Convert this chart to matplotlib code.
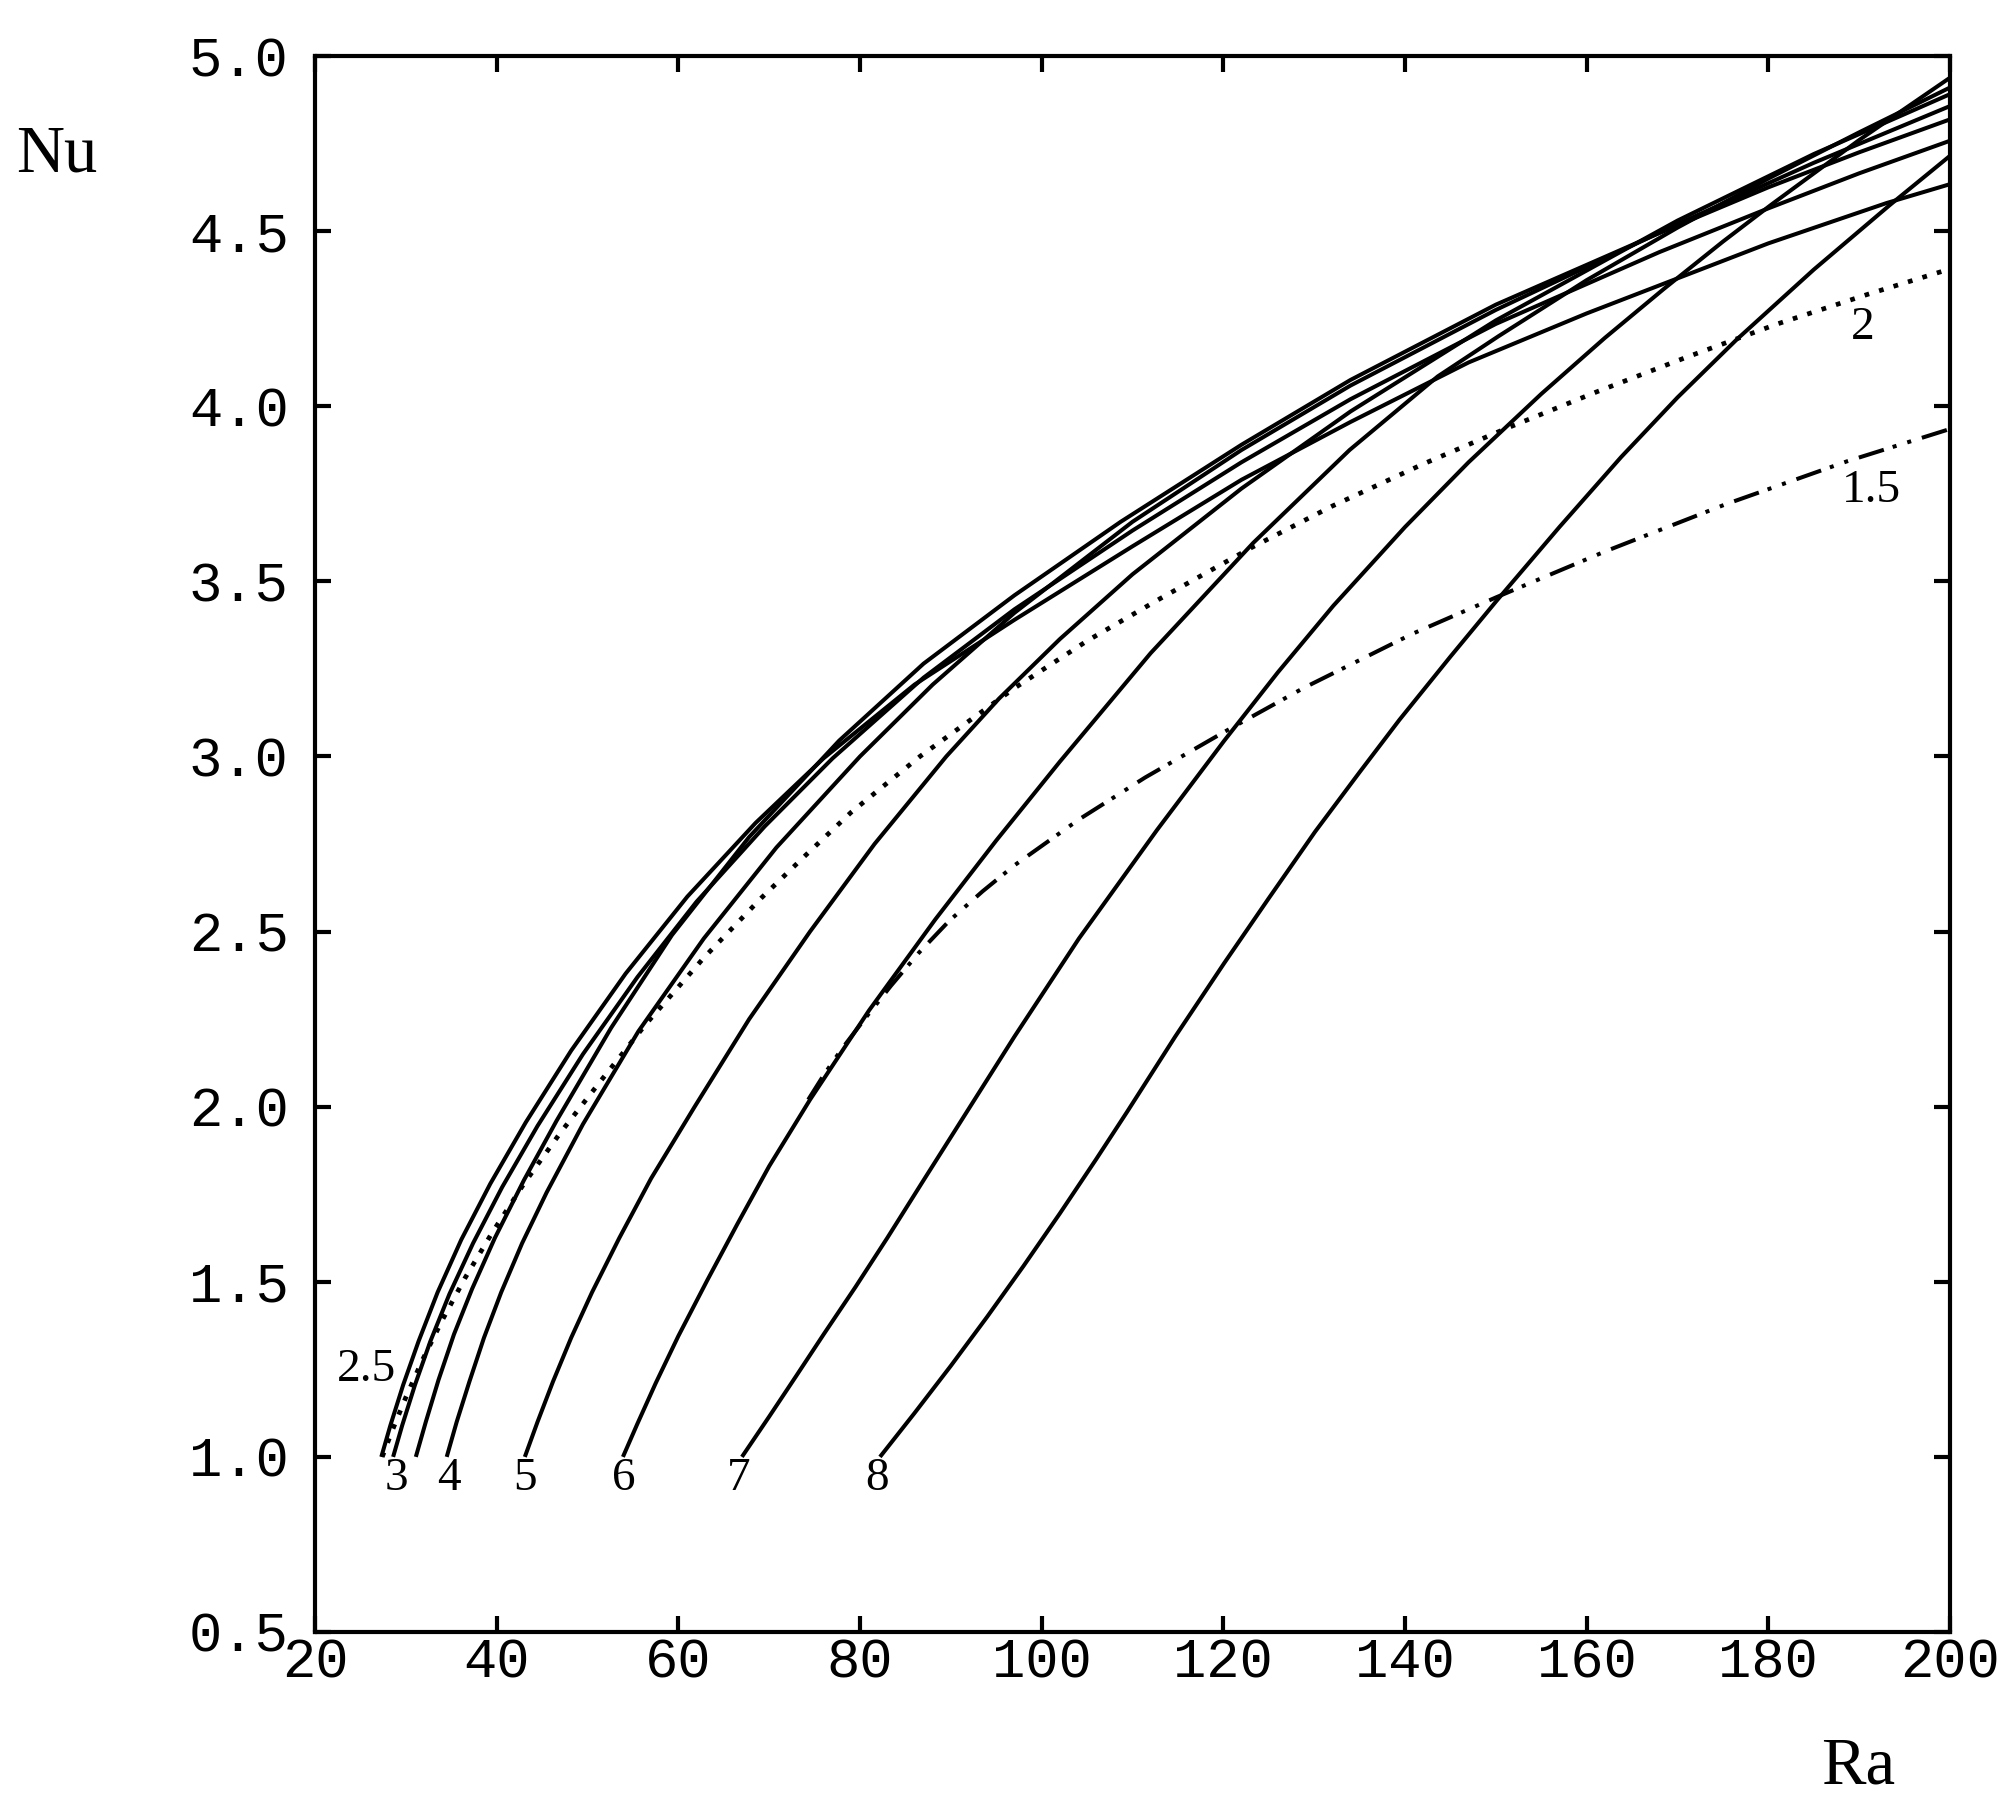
import matplotlib
matplotlib.use("Agg")
import matplotlib.pyplot as plt

# ---- curves: Nu vs Ra for each label ----
# solid curves
c25_ra = [27.3, 28.3, 29.7, 31.4, 33.5, 36.1, 39.3, 43.2, 48.2, 54.2, 61, 68.5, 76, 86, 97, 110, 122, 134, 147, 160, 170, 180, 193, 200]
c25_nu = [1.0, 1.09, 1.205, 1.33, 1.47, 1.62, 1.78, 1.955, 2.16, 2.38, 2.6, 2.81, 2.995, 3.205, 3.39, 3.60, 3.79, 3.955, 4.125, 4.265, 4.365, 4.465, 4.58, 4.634]

c3_ra = [28.6, 29.6, 31.0, 32.7, 34.8, 37.4, 40.6, 44.5, 49.5, 55.5, 62, 69.5, 77, 87, 97, 110, 122, 134, 150, 168, 180, 190, 200]
c3_nu = [1.0, 1.09, 1.205, 1.33, 1.465, 1.61, 1.77, 1.945, 2.15, 2.37, 2.585, 2.8, 2.995, 3.225, 3.42, 3.645, 3.84, 4.02, 4.235, 4.44, 4.565, 4.665, 4.758]

c35_ra = [31.1, 32.2, 33.6, 35.3, 37.3, 39.8, 43, 46.6, 52.6, 59.3, 67.8, 77.7, 87, 97, 108.7, 122, 134, 150, 167.6, 180, 190, 200]
c35_nu = [1.0, 1.1, 1.22, 1.35, 1.48, 1.625, 1.79, 1.96, 2.225, 2.49, 2.77, 3.045, 3.265, 3.46, 3.67, 3.89, 4.075, 4.29, 4.49, 4.625, 4.725, 4.819]

c4_ra = [34.5, 35.6, 37.0, 38.6, 40.5, 42.8, 45.5, 49.5, 55.6, 62.8, 70.8, 80.0, 88, 97, 110, 122, 134, 150, 170, 185, 200]
c4_nu = [1.0, 1.1, 1.215, 1.34, 1.47, 1.61, 1.755, 1.95, 2.215, 2.48, 2.74, 3.0, 3.205, 3.41, 3.67, 3.875, 4.059, 4.275, 4.52, 4.695, 4.857]

c5_ra = [43.1, 44.5, 46.2, 48.2, 50.5, 53.5, 57, 61.8, 67.8, 74.5, 81.6, 89.5, 95.3, 102, 110, 122, 134, 150, 170, 185, 200]
c5_nu = [1.0, 1.1, 1.215, 1.34, 1.47, 1.625, 1.795, 2.0, 2.25, 2.5, 2.75, 3.0, 3.165, 3.335, 3.52, 3.765, 3.985, 4.245, 4.53, 4.72, 4.891]

c6_ra = [53.9, 55.5, 57.5, 60, 63.2, 66.5, 70, 74.5, 81, 88.3, 95, 102, 112, 123.3, 133.9, 143.6, 150.3, 160, 170, 180, 190, 200]
c6_nu = [1.0, 1.095, 1.21, 1.345, 1.505, 1.665, 1.83, 2.02, 2.275, 2.535, 2.76, 2.985, 3.295, 3.61, 3.875, 4.085, 4.2, 4.36, 4.51, 4.65, 4.782, 4.91]

c7_ra = [67.0, 70, 73, 76, 79.5, 83, 87, 92, 97, 104.1, 112.7, 120.1, 126, 132.1, 140, 147, 155, 162, 168.5, 175, 180.3, 190, 200]
c7_nu = [1.0, 1.115, 1.232, 1.35, 1.485, 1.625, 1.79, 1.995, 2.2, 2.48, 2.79, 3.045, 3.24, 3.43, 3.655, 3.84, 4.035, 4.195, 4.335, 4.47, 4.575, 4.76, 4.938]

c8_ra = [82.2, 86, 90, 94, 98, 102, 106, 109.4, 114.7, 120.1, 125, 130.1, 135, 139.4, 145, 150.1, 157, 163.8, 170, 176.5, 185, 193.4, 200]
c8_nu = [1.0, 1.125, 1.26, 1.40, 1.545, 1.695, 1.85, 1.985, 2.20, 2.41, 2.595, 2.785, 2.955, 3.105, 3.285, 3.445, 3.655, 3.855, 4.025, 4.19, 4.39, 4.575, 4.715]

# dotted curve "2"
c2_ra = [27.4, 28.5, 30, 31.8, 34, 36.5, 39.5, 43, 47, 51.5, 56.4, 62.8, 69.1, 74.1, 79, 86.6, 97, 105, 113, 123, 132, 142, 151, 161, 171, 181, 191, 200]
c2_nu = [1.0, 1.075, 1.17, 1.275, 1.39, 1.51, 1.64, 1.78, 1.925, 2.075, 2.235, 2.425, 2.595, 2.72, 2.84, 3.0, 3.195, 3.33, 3.45, 3.595, 3.715, 3.835, 3.935, 4.04, 4.14, 4.235, 4.32, 4.392]

# dash-dot curve "1.5"
c15_ra = [74.3, 76, 78, 80.5, 83.4, 86.5, 89.8, 93.5, 97.05, 104.1, 111.4, 120.1, 128.8, 140.8, 150.1, 162, 175.3, 188.7, 200]
c15_nu = [2.02, 2.09, 2.165, 2.25, 2.345, 2.44, 2.53, 2.615, 2.69, 2.82, 2.94, 3.07, 3.195, 3.35, 3.455, 3.585, 3.72, 3.843, 3.935]

# curve labels: text, Ra, Nu
label_txt = ["2.5", "3", "4", "5", "6", "7", "8", "2", "1.5"]
label_ra = [25.7, 29.0, 34.8, 43.1, 54.0, 66.6, 81.9, 190.4, 191.3]
label_nu = [1.249, 0.937, 0.937, 0.937, 0.937, 0.937, 0.937, 4.223, 3.76]

xticks = [20, 40, 60, 80, 100, 120, 140, 160, 180, 200]
yticks = [0.5, 1.0, 1.5, 2.0, 2.5, 3.0, 3.5, 4.0, 4.5, 5.0]

fig = plt.figure(figsize=(19.99, 18.11), dpi=100)
ax = fig.add_axes([315 / 1999, 1 - 1632 / 1811, 1635 / 1999, 1576 / 1811])

lw = 2.9
solid = [(c25_ra, c25_nu), (c3_ra, c3_nu), (c35_ra, c35_nu), (c4_ra, c4_nu),
         (c5_ra, c5_nu), (c6_ra, c6_nu), (c7_ra, c7_nu), (c8_ra, c8_nu)]
for ra, nu in solid:
    ax.plot(ra, nu, color="black", lw=lw, solid_capstyle="butt", solid_joinstyle="round")

# dotted: square dots about 5 px wide, 15 px apart
ax.plot(c2_ra, c2_nu, color="black", lw=3.4, linestyle=(0, (1, 2.2)), dash_capstyle="butt")
ax.plot(c15_ra, c15_nu, color="black", lw=lw,
        linestyle=(0, (6.5, 2.3, 1, 2.8, 1, 2.8)), dash_capstyle="butt")

for t, x, y in zip(label_txt, label_ra, label_nu):
    ax.text(x, y, t, ha="center", va="center", fontsize=34,
            family="Liberation Serif", color="black")

ax.set_xlim(20, 200)
ax.set_ylim(0.5, 5.0)
ax.set_xticks(xticks)
ax.set_yticks(yticks)
ax.set_xticklabels([str(v) for v in xticks], family="Liberation Mono", fontsize=40)
ax.set_yticklabels(["%.1f" % v for v in yticks], family="Liberation Mono", fontsize=40)
ax.tick_params(axis="both", direction="in", length=11.5, width=3, top=True, right=True)
ax.tick_params(axis="x", pad=4)
ax.tick_params(axis="y", pad=19)
for s in ax.spines.values():
    s.set_linewidth(3)

ax.set_ylabel("Nu", rotation=0, family="Liberation Serif", fontsize=48)
ax.yaxis.set_label_coords(-0.158, 0.918)
ax.set_xlabel("Ra", family="Liberation Serif", fontsize=48)
ax.xaxis.set_label_coords(0.944, -0.066)

fig.savefig("out.png", dpi=100)
